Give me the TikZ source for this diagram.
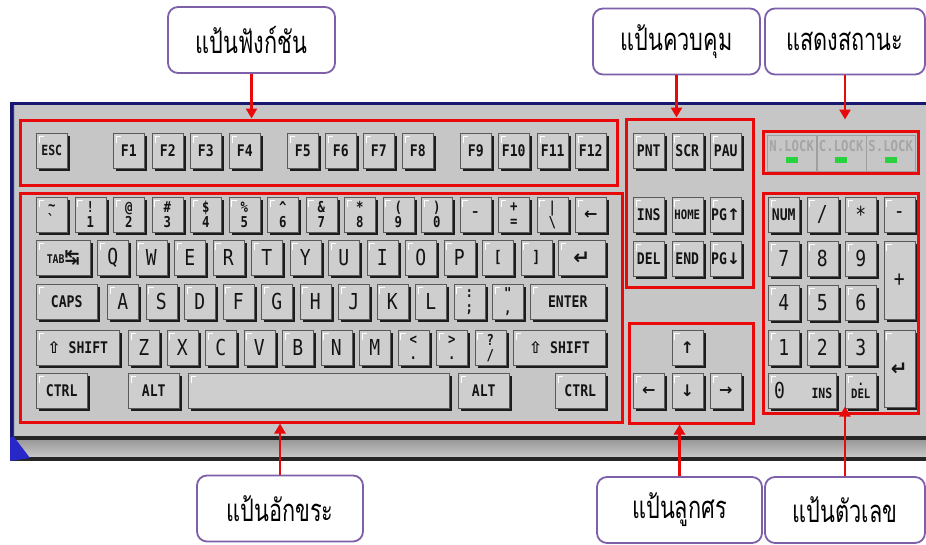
\documentclass[tikz,border=0pt]{standalone}
\usepackage{fontspec}
\usetikzlibrary{shadows,fit,arrows.meta}
\newfontfamily\thaifont[Script=Thai,FakeStretch=0.7]{Loma}
\newfontfamily\capfont[FakeStretch=0.82]{DejaVu Sans Mono}
\newfontfamily\symfont{DejaVu Sans}
\definecolor{bodygray}{RGB}{198,198,198}
\definecolor{keyface}{RGB}{206,206,206}
\definecolor{keyedge}{RGB}{90,90,90}
\definecolor{keyshadow}{RGB}{28,28,28}
\definecolor{keytext}{RGB}{20,20,20}
\definecolor{caseblue}{RGB}{24,24,110}
\definecolor{wedgeblue}{RGB}{40,40,200}
\definecolor{framered}{RGB}{232,10,10}
\definecolor{tagpurple}{RGB}{125,95,170}
\definecolor{ledgreen}{RGB}{40,210,60}
\definecolor{lamptext}{RGB}{165,165,165}
\tikzset{
  key/.style={anchor=north west, draw=keyedge, fill=keyface, line width=0.5pt,
    minimum width=31pt, minimum height=35pt, inner sep=0pt, text=keytext,
    general shadow={fill=keyshadow, shadow xshift=3pt, shadow yshift=-3pt},
    path picture={\draw[white, line width=1.1pt]
      ([shift={(3pt,-10pt)}]path picture bounding box.north west) |- ++(5pt,7pt);},
    font=\capfont\bfseries\fontsize{16}{16}\selectfont},
  letter/.style={key, font=\capfont\fontsize{22}{22}\selectfont},
  duo/.style={key, align=center, font=\capfont\bfseries\fontsize{15}{15}\selectfont},
  legend/.style={inner sep=0pt, text=keytext},
  zone/.style={draw=framered, line width=3pt, inner sep=0pt},
  tag/.style={draw=tagpurple, line width=1.8pt, rounded corners=10pt, fill=white,
    minimum height=66pt, inner sep=0pt, font=\thaifont\fontsize{31}{31}\selectfont},
  pointer/.style={draw=framered, line width=2.5pt, -{Triangle[width=11pt,length=10pt]}},
  lockcell/.style={anchor=north west, draw=gray!75, fill=bodygray, minimum width=49pt,
    minimum height=36pt, inner sep=0pt},
  lamp/.style={text=lamptext, inner sep=0pt, font=\capfont\bfseries\fontsize{15}{15}\selectfont}
}
\begin{document}
\begin{tikzpicture}[x=1pt,y=-1pt]
\useasboundingbox (0,0) rectangle (926,544);
% keyboard case
\fill[bodygray] (12,104) rectangle (926,437);
\fill[black!85] (12,436) rectangle (926,461);
\shade[top color=gray!80, bottom color=gray!45] (14,440) rectangle (926,456);
\fill[wedgeblue] (10,103) -- (14,103) -- (14,437) -- (30,458) -- (10,461) -- cycle;
\draw[caseblue, line width=3pt] (11.5,437) -- (11.5,103) -- (926,103);

% function keys
\node[key, font=\capfont\bfseries\fontsize{14}{14}\selectfont] (esc) at (36,133) {ESC};
\node[key] (f1) at (113,133) {F1};
\node[key] (f2) at (152,133) {F2};
\node[key] (f3) at (190,133) {F3};
\node[key] (f4) at (229,133) {F4};
\node[key] (f5) at (287,133) {F5};
\node[key] (f6) at (325,133) {F6};
\node[key] (f7) at (363,133) {F7};
\node[key] (f8) at (402,133) {F8};
\node[key] (f9) at (460,133) {F9};
\node[key] (f10) at (498,133) {F10};
\node[key] (f11) at (537,133) {F11};
\node[key] (f12) at (575,133) {F12};

% number row
\node[duo] (kgrave) at (36,197) {\textasciitilde\\\textasciigrave};
\node[duo] (k1) at (74.5,197) {!\\1};
\node[duo] (k2) at (113,197) {@\\2};
\node[duo] (k3) at (151.5,197) {\#\\3};
\node[duo] (k4) at (190,197) {\$\\4};
\node[duo] (k5) at (228.5,197) {\%\\5};
\node[duo] (k6) at (267,197) {\textasciicircum\\6};
\node[duo] (k7) at (305.5,197) {\&\\7};
\node[duo] (k8) at (344,197) {*\\8};
\node[duo] (k9) at (382.5,197) {(\\9};
\node[duo] (k0) at (421,197) {)\\0};
\node[letter] (kminus) at (459.5,197) {-};
\node[duo] (kequal) at (498,197) {+\\=};
\node[duo] (kbslash) at (536.5,197) {|\\\textbackslash};
\node[key, font=\symfont\bfseries\fontsize{16}{16}\selectfont] (bksp) at (575,197) {←};

% top letter row
\node[key, minimum width=54pt, font=\capfont\bfseries\fontsize{12}{12}\selectfont] (tab) at (36,240) {TAB{\symfont\fontsize{18}{18}\selectfont ↹}};
\node[letter] (kq) at (97,240) {Q};
\node[letter] (kw) at (135.5,240) {W};
\node[letter] (ke) at (174,240) {E};
\node[letter] (kr) at (212.5,240) {R};
\node[letter] (kt) at (251,240) {T};
\node[letter] (ky) at (289.5,240) {Y};
\node[letter] (ku) at (328,240) {U};
\node[letter] (ki) at (366.5,240) {I};
\node[letter] (ko) at (405,240) {O};
\node[letter] (kp) at (443.5,240) {P};
\node[key] (klbrack) at (482,240) {[};
\node[key] (krbrack) at (520.5,240) {]};
\node[key, minimum width=47pt, font=\symfont\bfseries\fontsize{20}{20}\selectfont] (ret) at (558,240) {↵};

% home row
\node[key, minimum width=61pt] (caps) at (36,284) {CAPS};
\node[letter] (ka) at (107,284) {A};
\node[letter] (ks) at (145.5,284) {S};
\node[letter] (kd) at (184,284) {D};
\node[letter] (kf) at (222.5,284) {F};
\node[letter] (kg) at (261,284) {G};
\node[letter] (kh) at (299.5,284) {H};
\node[letter] (kj) at (338,284) {J};
\node[letter] (kk) at (376.5,284) {K};
\node[letter] (kl) at (415,284) {L};
\node[duo] (ksemi) at (453.5,284) {:\\;};
\node[duo] (kquote) at (492,284) {"\\,};
\node[key, minimum width=75pt] (enter) at (530,284) {ENTER};

% bottom letter row
\node[key, minimum width=83pt] (lshift) at (36,330) {{\symfont ⇧} SHIFT};
\node[letter] (kz) at (128,330) {Z};
\node[letter] (kx) at (166.5,330) {X};
\node[letter] (kc) at (205,330) {C};
\node[letter] (kv) at (243.5,330) {V};
\node[letter] (kb) at (282,330) {B};
\node[letter] (kn) at (320.5,330) {N};
\node[letter] (km) at (359,330) {M};
\node[duo] (kless) at (397.5,330) {<\\.};
\node[duo] (kmore) at (436,330) {>\\.};
\node[duo] (kquest) at (474.5,330) {?\\/};
\node[key, minimum width=92pt] (rshift) at (513,330) {{\symfont ⇧} SHIFT};

% space row
\node[key, minimum width=51pt] (lctrl) at (36,373) {CTRL};
\node[key, minimum width=51pt] (lalt) at (128,373) {ALT};
\node[key, minimum width=261pt] (space) at (188,373) {};
\node[key, minimum width=51pt] (ralt) at (458,373) {ALT};
\node[key, minimum width=50pt] (rctrl) at (555,373) {CTRL};

% control block
\node[key] (prnt) at (633,133) {PNT};
\node[key] (scr) at (671.5,133) {SCR};
\node[key] (pau) at (710,133) {PAU};
\node[key] (ins) at (633,197) {INS};
\node[key, font=\capfont\bfseries\fontsize{13}{13}\selectfont] (home) at (671.5,197) {HOME};
\node[key] (pgup) at (710,197) {PG{\symfont ↑}};
\node[key] (del) at (633,241) {DEL};
\node[key] (end) at (671.5,241) {END};
\node[key] (pgdn) at (710,241) {PG{\symfont ↓}};

% arrow block
\node[key, font=\symfont\bfseries\fontsize{16}{16}\selectfont] (up) at (671.5,330) {↑};
\node[key, font=\symfont\bfseries\fontsize{16}{16}\selectfont] (left) at (633,373) {←};
\node[key, font=\symfont\bfseries\fontsize{16}{16}\selectfont] (down) at (671.5,373) {↓};
\node[key, font=\symfont\bfseries\fontsize{16}{16}\selectfont] (right) at (710,373) {→};

% lock lamps
\node[lockcell] (nlock) at (767,135) {};
\node[lockcell] (clock) at (816.5,135) {};
\node[lockcell] (slock) at (866,135) {};
\node[lamp] at ([yshift=-11pt]nlock.north) {N.LOCK};
\node[lamp] at ([yshift=-11pt]clock.north) {C.LOCK};
\node[lamp] at ([yshift=-11pt]slock.north) {S.LOCK};
\fill[ledgreen] ([shift={(-6pt,-22pt)}]nlock.north) rectangle ++(12pt,-6pt);
\fill[ledgreen] ([shift={(-6pt,-22pt)}]clock.north) rectangle ++(12pt,-6pt);
\fill[ledgreen] ([shift={(-6pt,-22pt)}]slock.north) rectangle ++(12pt,-6pt);

% numeric pad
\node[key] (numlk) at (768,197) {NUM};
\node[letter] (pslash) at (806.5,197) {/};
\node[letter] (pstar) at (845,197) {*};
\node[letter] (pminus) at (883.5,197) {-};
\node[letter] (p7) at (768,241) {7};
\node[letter] (p8) at (806.5,241) {8};
\node[letter] (p9) at (845,241) {9};
\node[letter, minimum height=78pt] (pplus) at (883.5,241) {+};
\node[letter] (p4) at (768,285) {4};
\node[letter] (p5) at (806.5,285) {5};
\node[letter] (p6) at (845,285) {6};
\node[letter] (p1) at (768,330) {1};
\node[letter] (p2) at (806.5,330) {2};
\node[letter] (p3) at (845,330) {3};
\node[key, minimum height=77pt, font=\symfont\bfseries\fontsize{20}{20}\selectfont] (penter) at (883.5,330) {↵};
\node[key, minimum width=68pt] (p0) at (768,373) {};
\node[legend, anchor=west, font=\capfont\fontsize{22}{22}\selectfont] (p0zero) at ([xshift=6pt]p0.west) {0};
\node[legend, anchor=east, font=\capfont\bfseries\fontsize{14}{14}\selectfont] (p0ins) at ([xshift=-4pt,yshift=-3pt]p0.east) {INS};
\node[duo, font=\capfont\bfseries\fontsize{13}{13}\selectfont] (pdel) at (845,373) {.\\DEL};

% red zones
\node[zone, fit={(20,120) (617,185)}] (fnzone) {};
\node[zone, fit={(20,193) (622,422)}] (charzone) {};
\node[zone, fit={(626,119) (753,287)}] (ctrlzone) {};
\node[zone, fit={(763,131) (918,173)}] (lockzone) {};
\node[zone, fit={(629,323) (753,423)}] (arrowzone) {};
\node[zone, fit={(763,193) (918,413)}] (numzone) {};

% captions
\node[tag, minimum width=167pt] (fnlabel) at (251.5,40) {แป้นฟังก์ชัน};
\node[tag, minimum width=167pt] (ctrllabel) at (676.5,41.5) {แป้นควบคุม};
\node[tag, minimum width=160pt] (locklabel) at (845,41.5) {แสดงสถานะ};
\node[tag, minimum width=166pt] (charlabel) at (280,508.5) {แป้นอักขระ};
\node[tag, minimum width=165pt] (arrowlabel) at (679.5,510) {แป้นลูกศร};
\node[tag, minimum width=160pt] (numlabel) at (845,510) {แป้นตัวเลข};

\draw[pointer] (fnlabel.south) -- (fnlabel.south |- fnzone.north);
\draw[pointer] (ctrllabel.south) -- (ctrllabel.south |- ctrlzone.north);
\draw[pointer, shorten >=10pt] (locklabel.south) -- (locklabel.south |- lockzone.north);
\draw[pointer] (charlabel.north) -- (charlabel.north |- charzone.south);
\draw[pointer] (arrowlabel.north) -- (arrowlabel.north |- arrowzone.south);
\draw[pointer, shorten >=-8pt] (numlabel.north) -- (numlabel.north |- numzone.south);
\end{tikzpicture}
\end{document}
